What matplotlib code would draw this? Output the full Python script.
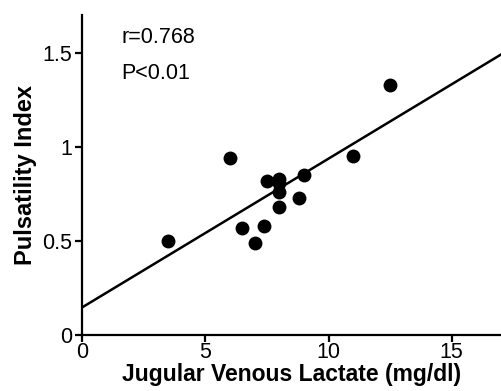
import matplotlib
matplotlib.use('Agg')
import matplotlib.pyplot as plt
import numpy as np

# Data
lactate = [3.5, 6.0, 6.5, 7.0, 7.4, 7.5, 8.0, 8.0, 8.0, 8.0, 8.8, 9.0, 11.0, 12.5]
pulsatility = [0.50, 0.94, 0.57, 0.49, 0.58, 0.82, 0.83, 0.81, 0.76, 0.68, 0.73, 0.85, 0.95, 1.33]
x_ticks = [0, 5, 10, 15]
y_ticks = [0, 0.5, 1, 1.5]
y_tick_labels = ['0', '0.5', '1', '1.5']

plt.rcParams['font.family'] = ['Liberation Sans', 'DejaVu Sans']

fig = plt.figure(figsize=(5.01, 3.91), dpi=100)
ax = fig.add_axes([0.164, 0.143, 0.836, 0.819])

# Plotting
ax.scatter(lactate, pulsatility, s=100, color='black', zorder=3, linewidths=0)
slope, intercept = np.polyfit(lactate, pulsatility, 1)
xs = np.array([0, 17])
ax.plot(xs, slope * xs + intercept, color='black', lw=1.8)

# Customization
ax.set_xlim(0, 17)
ax.set_ylim(0, 1.70)
ax.set_xticks(x_ticks)
ax.set_yticks(y_ticks)
ax.set_yticklabels(y_tick_labels)
for s in ['top', 'right']:
    ax.spines[s].set_visible(False)
for s in ['left', 'bottom']:
    ax.spines[s].set_linewidth(1.6)
ax.tick_params(width=1.6, length=5, labelsize=15.5, direction='out')
ax.tick_params(axis='x', pad=0)
ax.tick_params(axis='y', pad=2)
ax.set_xlabel('Jugular Venous Lactate (mg/dl)', fontsize=16.5, fontweight='bold', labelpad=0)
ax.set_ylabel('Pulsatility Index', fontsize=17, fontweight='bold', labelpad=4)

ax.text(1.6, 1.58, 'r=0.768', fontsize=15.5, va='center', ha='left')
ax.text(1.6, 1.39, 'P<0.01', fontsize=15.5, va='center', ha='left')

fig.savefig('out.png', dpi=100)
